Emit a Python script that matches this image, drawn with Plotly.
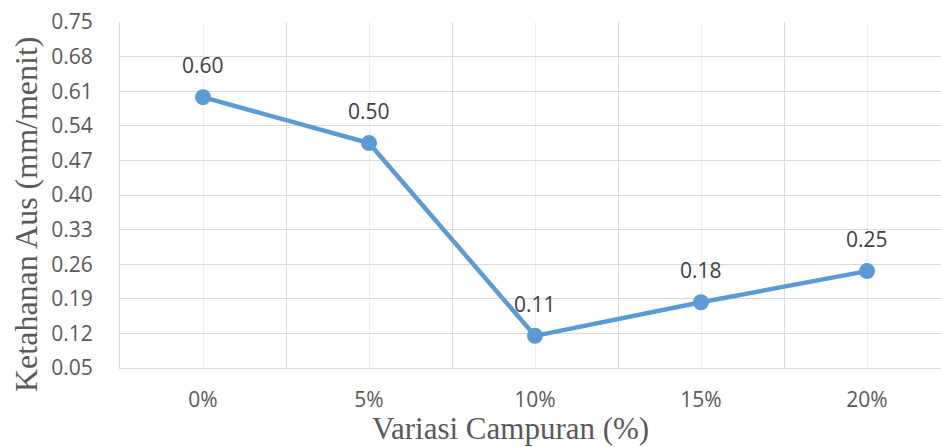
import plotly.graph_objects as go

categories = ["0%", "5%", "10%", "15%", "20%"]
values = [0.598, 0.505, 0.115, 0.183, 0.246]
labels = ["0.60", "0.50", "0.11", "0.18", "0.25"]
y_ticks = [0.05, 0.12, 0.19, 0.26, 0.33, 0.40, 0.47, 0.54, 0.61, 0.68, 0.75]

xs = list(range(len(categories)))

fig = go.Figure()
fig.add_trace(go.Scatter(
    x=xs, y=values, mode="lines+markers",
    line=dict(color="#5B9BD5", width=4.5),
    marker=dict(color="#5B9BD5", size=16),
    hoverinfo="skip", showlegend=False,
))

for x, y, t in zip(xs, values, labels):
    fig.add_annotation(x=x, y=y, text=t, showarrow=False, yshift=32,
                       xanchor="center", yanchor="middle",
                       font=dict(family="Open Sans", size=21, color="#404040"))

fig.add_annotation(xref="paper", yref="paper", x=(510 - 120) / 821,
                   y=-(428 - 368) / 346, text="Variasi Campuran (%)", showarrow=False,
                   xanchor="center", yanchor="middle",
                   font=dict(family="Liberation Serif", size=31, color="#595959"))
fig.add_annotation(xref="paper", yref="paper", x=-(120 - 26) / 821, y=(368 - 215) / 346,
                   text="Ketahanan Aus (mm/menit)", showarrow=False, textangle=-90,
                   xanchor="center", yanchor="middle",
                   font=dict(family="Liberation Serif", size=32, color="#595959"))

fig.update_layout(
    width=941, height=447,
    margin=dict(l=120, r=0, t=22, b=79),
    paper_bgcolor="white", plot_bgcolor="white",
    xaxis=dict(
        range=[-0.5, -0.5 + 821 / 166],
        tickvals=xs, ticktext=categories,
        showgrid=True, gridcolor="#efefef", gridwidth=1,
        minor=dict(tickvals=[-0.5, 0.5, 1.5, 2.5, 3.5, 4.5], showgrid=True,
                   gridcolor="#d9d9d9", gridwidth=1, ticks=""),
        showline=True, linecolor="#d9d9d9", linewidth=1,
        zeroline=False, ticks="", ticklabelstandoff=13,
        tickfont=dict(family="Open Sans", size=21, color="#595959"),
        fixedrange=True,
    ),
    yaxis=dict(
        range=[0.05, 0.75], tickvals=y_ticks, tickformat=".2f",
        showgrid=True, gridcolor="#d9d9d9", gridwidth=1,
        showline=True, linecolor="#d9d9d9", linewidth=1,
        zeroline=False, ticks="", ticklabelstandoff=22,
        tickfont=dict(family="Open Sans", size=21, color="#595959"),
        fixedrange=True,
    ),
)

fig.write_html("out.html")
